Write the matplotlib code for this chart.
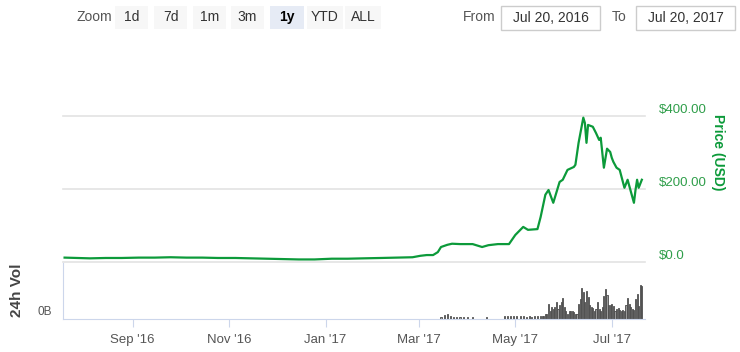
import matplotlib
matplotlib.use("Agg")
import matplotlib.pyplot as plt
import matplotlib.dates as mdates
from matplotlib.patches import Rectangle
import pandas as pd

# price (USD)
price_dates = ['2016-07-20', '2016-07-28', '2016-08-05', '2016-08-15', '2016-08-25',
               '2016-09-05', '2016-09-15', '2016-09-25', '2016-10-05', '2016-10-15',
               '2016-10-25', '2016-11-05', '2016-11-15', '2016-11-25', '2016-12-05',
               '2016-12-15', '2016-12-25', '2017-01-05', '2017-01-15', '2017-01-25',
               '2017-02-05', '2017-02-15', '2017-02-25', '2017-03-02', '2017-03-06',
               '2017-03-10', '2017-03-13', '2017-03-15', '2017-03-17', '2017-03-19',
               '2017-03-22', '2017-03-27', '2017-04-04', '2017-04-10', '2017-04-14',
               '2017-04-20', '2017-04-27', '2017-05-01', '2017-05-06', '2017-05-09',
               '2017-05-15', '2017-05-17', '2017-05-20', '2017-05-22', '2017-05-25',
               '2017-05-29', '2017-05-31', '2017-06-03', '2017-06-07', '2017-06-08',
               '2017-06-10', '2017-06-13', '2017-06-14', '2017-06-15', '2017-06-16',
               '2017-06-19', '2017-06-21', '2017-06-23', '2017-06-24', '2017-06-26',
               '2017-06-28', '2017-06-30', '2017-07-01', '2017-07-02', '2017-07-04',
               '2017-07-06', '2017-07-09', '2017-07-11', '2017-07-15', '2017-07-16',
               '2017-07-17', '2017-07-18', '2017-07-20']
price_usd = [12, 11, 10, 11, 11,
             12, 12, 13, 12, 12,
             11, 11, 10, 9, 8,
             7, 7, 9, 9, 10,
             11, 12, 13, 17, 19,
             19, 27, 41, 44, 47,
             50, 49, 49, 41, 46,
             49, 49, 74, 96, 88,
             90, 123, 184, 197, 162,
             219, 225, 252, 260, 266,
             326, 395, 380, 326, 375,
             370, 353, 334, 340, 258,
             310, 301, 285, 274, 258,
             252, 203, 225, 162, 197,
             225, 203, 225]

# 24h volume (USD millions)
vol_dates = pd.date_range('2017-03-10', '2017-07-20', freq='D')
vol_musd = [0, 0, 0, 0, 0, 120, 0, 240, 0, 300,
            0, 150, 0, 120, 0, 120, 0, 90, 0, 90,
            0, 0, 90, 0, 0, 90, 0, 0, 0, 0,
            0, 0, 0, 0, 90, 0, 0, 0, 0, 0,
            0, 0, 0, 0, 0, 150, 0, 180, 0, 200,
            0, 180, 0, 200, 0, 150, 0, 150, 0, 120,
            0, 150, 120, 0, 150, 0, 180, 0, 150, 150, 180, 300,
            300, 900, 480, 720, 600, 720, 1020, 600, 840, 1020,
            1260, 720, 480, 300, 480, 480, 480, 420, 300, 300,
            900, 1200, 1860, 1620, 1020, 1680, 1320, 840, 720, 660,
            480, 600, 1020, 600, 480, 720, 1380, 1800, 1440, 840,
            840, 900, 780, 480, 600, 660, 540, 480, 540, 480,
            840, 1260, 900, 720, 600, 540, 1200, 1500, 780, 2040,
            1980]

month_ticks = ['2016-09-01', '2016-11-01', '2017-01-01', '2017-03-01', '2017-05-01', '2017-07-01']
month_labels = ["Sep '16", "Nov '16", "Jan '17", "Mar '17", "May '17", "Jul '17"]
price_ticks = [0, 200, 400]
price_labels = ['$0.0', '$200.00', '$400.00']
zoom_buttons = ['1d', '7d', '1m', '3m', '1y', 'YTD', 'ALL']

W, H = 740, 352
plt.rcParams['font.family'] = ['Liberation Sans', 'DejaVu Sans']
fig = plt.figure(figsize=(W / 100, H / 100), dpi=100)

def box(x0, y0, x1, y1):
    # pixel box (top-left origin) -> figure rect
    return [x0 / W, 1 - y1 / H, (x1 - x0) / W, (y1 - y0) / H]

green = '#0c9a3a'
label_green = '#2f9e4a'
axis_col = '#ccd6eb'
grid_col = '#e3e3e3'

x0, x1 = 63, 645
pdates = pd.to_datetime(price_dates)
xlim = (mdates.date2num(pd.Timestamp('2016-07-20')) - 1,
        mdates.date2num(pd.Timestamp('2017-07-20')) + 2)

# price panel
ax = fig.add_axes(box(x0, 50, x1, 262))
ax.plot(pdates, price_usd, color=green, lw=1.6, solid_joinstyle='round')
ax.set_xlim(xlim)
ax.set_ylim(0, 580)
for v in price_ticks:
    ax.axhline(v, color=grid_col, lw=1.2, zorder=0, clip_on=False)
for s in ax.spines.values():
    s.set_visible(False)
ax.set_xticks([])
ax.yaxis.tick_right()
ax.set_yticks(price_ticks)
ax.set_yticklabels(price_labels, color=label_green, fontsize=9.5)
ax.tick_params(axis='y', length=0, pad=10)
for lbl in ax.get_yticklabels():
    lbl.set_va('bottom')
fig.text(718 / W, 1 - 152 / H, 'Price (USD)', rotation=270, color=green,
         fontsize=10, fontweight='bold', ha='center', va='center')

# volume panel
axv = fig.add_axes(box(x0, 263, x1, 319))
axv.bar(vol_dates, vol_musd, width=0.7, color='#9a9a9a', edgecolor='#4a4a4a', lw=0.6)
axv.set_xlim(xlim)
axv.set_ylim(0, 3350)
for k in ['top', 'right']:
    axv.spines[k].set_visible(False)
axv.spines['left'].set_color(axis_col)
axv.spines['bottom'].set_color(axis_col)
axv.set_yticks([])
axv.set_xticks(pd.to_datetime(month_ticks))
axv.set_xticklabels(month_labels, color='#555555', fontsize=9.5)
axv.tick_params(axis='x', color=axis_col, length=6, pad=5)
fig.text(37 / W, 1 - 312 / H, '0B', color='#555555', fontsize=8.5, ha='left', va='center')
fig.text(17 / W, 1 - 290 / H, '24h Vol', rotation=90, color='#444444', fontsize=11,
         fontweight='bold', ha='center', va='center')

# range selector toolbar
fig.text(94 / W, 1 - 17 / H, 'Zoom', color='#555555', fontsize=10, ha='center', va='center')
btn_x = [115, 154, 193, 231, 270, 307, 345]
btn_w = [33, 33, 33, 33, 34, 36, 36]
for name, bx, bw in zip(zoom_buttons, btn_x, btn_w):
    sel = name == '1y'
    fig.patches.append(Rectangle((bx / W, 1 - 29 / H), bw / W, 23 / H,
                                 transform=fig.transFigure,
                                 facecolor='#e6ebf5' if sel else '#f7f7f7', edgecolor='none'))
    fig.text((bx + bw / 2) / W, 1 - 17 / H, name, color='#000000' if sel else '#333333',
             fontsize=10, fontweight='bold' if sel else 'normal', ha='center', va='center')

fig.text(479 / W, 1 - 17 / H, 'From', color='#555555', fontsize=10, ha='center', va='center')
fig.text(619 / W, 1 - 17 / H, 'To', color='#555555', fontsize=10, ha='center', va='center')
for bx, txt in [(501, 'Jul 20, 2016'), (636, 'Jul 20, 2017')]:
    fig.patches.append(Rectangle((bx / W, 1 - 30 / H), 99 / W, 24 / H,
                                 transform=fig.transFigure,
                                 facecolor='white', edgecolor='#cccccc', lw=1))
    fig.text((bx + 49.5) / W, 1 - 17.5 / H, txt, color='#333333', fontsize=10,
             ha='center', va='center')

fig.savefig('out.png', dpi=100)
